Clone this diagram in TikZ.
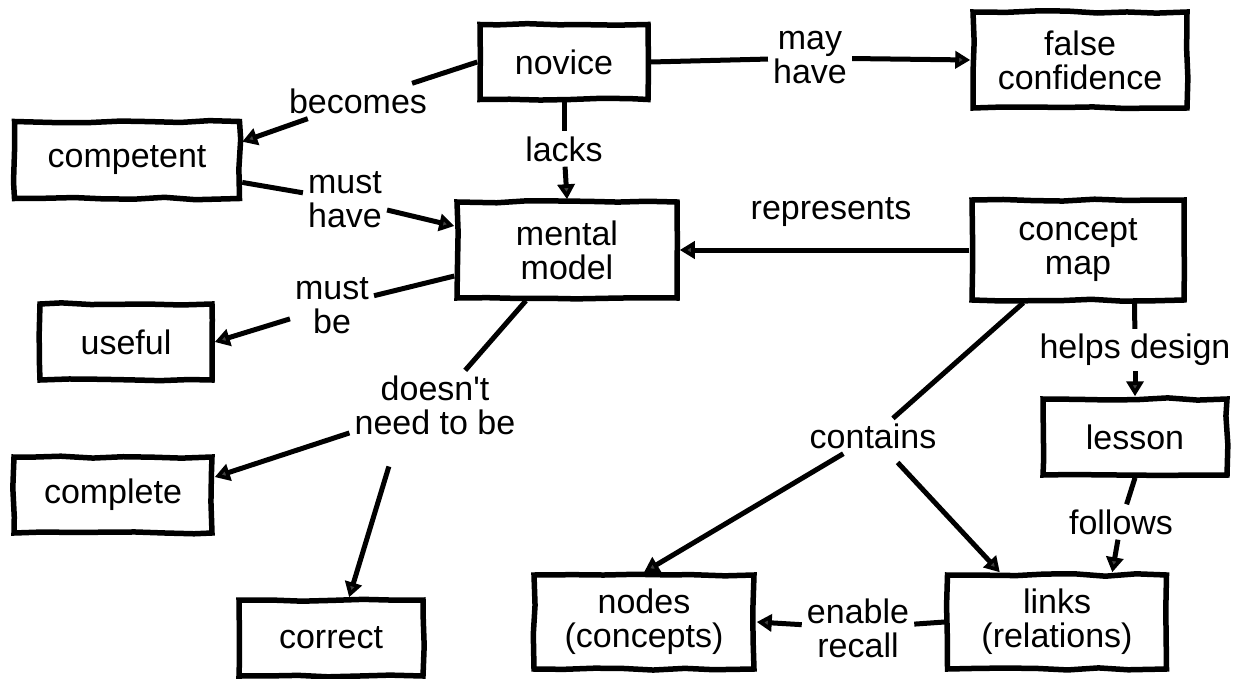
\documentclass[tikz,border=0pt]{standalone}
\usepackage{fontspec}
\newfontfamily\mapfont{Liberation Sans}
\usetikzlibrary{arrows.meta,decorations.pathmorphing,calc}
\begin{document}
\begin{tikzpicture}[x=1pt,y=-1pt,
  every node/.style={font=\mapfont\fontsize{34}{34}\selectfont, align=center},
  concept/.style={draw, line width=5.5pt, inner sep=0pt,
    decorate, decoration={random steps, segment length=30pt, amplitude=1.2pt}},
  lbl/.style={inner sep=5pt},
  link/.style={line width=5pt, line cap=butt},
  arr/.style={link, -{Triangle[length=15pt, width=17pt, fill=black!75]}}
]
\pgfmathsetseed{7}
\useasboundingbox (0,0) rectangle (1238,679);
\fill[white] (0,0) rectangle (1238,679);

% concepts
\node[concept, minimum width=168pt, minimum height=75pt] (novice) at (564,62) {novice};
\node[concept, minimum width=214pt, minimum height=96pt] (falseconf) at (1080,60) {false\\confidence};
\node[concept, minimum width=225pt, minimum height=77pt] (competent) at (127,160) {competent};
\node[concept, minimum width=220pt, minimum height=96pt] (mental) at (567,250) {mental\\model};
\node[concept, minimum width=212pt, minimum height=100pt] (cmap) at (1078,250) {concept\\map};
\node[concept, minimum width=172pt, minimum height=76pt] (useful) at (126,342) {useful};
\node[concept, minimum width=198pt, minimum height=76pt] (complete) at (113,495) {complete};
\node[concept, minimum width=184pt, minimum height=76pt] (correct) at (331,638) {correct};
\node[concept, minimum width=220pt, minimum height=94pt] (nodes) at (644,622) {nodes\\(concepts)};
\node[concept, minimum width=219pt, minimum height=94pt] (links) at (1057,622) {links\\(relations)};
\node[concept, minimum width=184pt, minimum height=76pt] (lesson) at (1135,437) {lesson};

% link labels
\node[lbl] (becomes) at (358,101) {becomes};
\node[lbl] (lacks) at (564,149) {lacks};
\node[lbl] (mayhave) at (810,58) {may\\have};
\node[lbl] (musthave) at (345,200) {must\\have};
\node[lbl] (mustbe) at (332,306) {must\\be};
\node[lbl] (represents) at (831,212) {represents};
\node[lbl] (doesnt) at (435,405) {doesn't\\need to be};
\node[lbl] (helps) at (1135,350) {helps design};
\node[lbl] (contains) at (873,436) {contains};
\node[lbl] (follows) at (1121,522) {follows};
\node[lbl] (enable) at (858,628) {enable\\recall};

% connectors
\draw[link] (novice.west) -- (becomes);
\draw[arr] (becomes) -- (competent.9);

\draw[link] (novice.south) -- (lacks);
\draw[arr] (lacks) -- (mental.north);

\draw[link] (novice.east) -- (mayhave);
\draw[arr] (mayhave) -- (falseconf.west);

\draw[link] (competent.-11) -- (musthave);
\draw[arr] (musthave) -- (mental.168);

\draw[link] (mental.193) -- (mustbe);
\draw[arr] (mustbe) -- (useful.east);

\draw[link] (mental.-129) -- (doesnt);
\draw[arr] (doesnt) -- (complete.10);
\draw[arr, shorten <=28pt] ([xshift=-38pt]doesnt.south) -- (correct.66);

\draw[arr] (cmap.west) -- (mental.east);

\draw[link] (cmap.-43) -- (helps);
\draw[arr] (helps) -- (lesson.north);

\draw[link] (cmap.-136) -- (contains);
\draw[arr] (contains) -- (nodes.north);
\draw[arr, shorten <=12pt] (contains) -- (links.139);

\draw[link] (lesson.south) -- (follows);
\draw[arr] (follows) -- (links.42);

\draw[link] (links.west) -- (enable);
\draw[arr] (enable) -- (nodes.east);
\end{tikzpicture}
\end{document}
